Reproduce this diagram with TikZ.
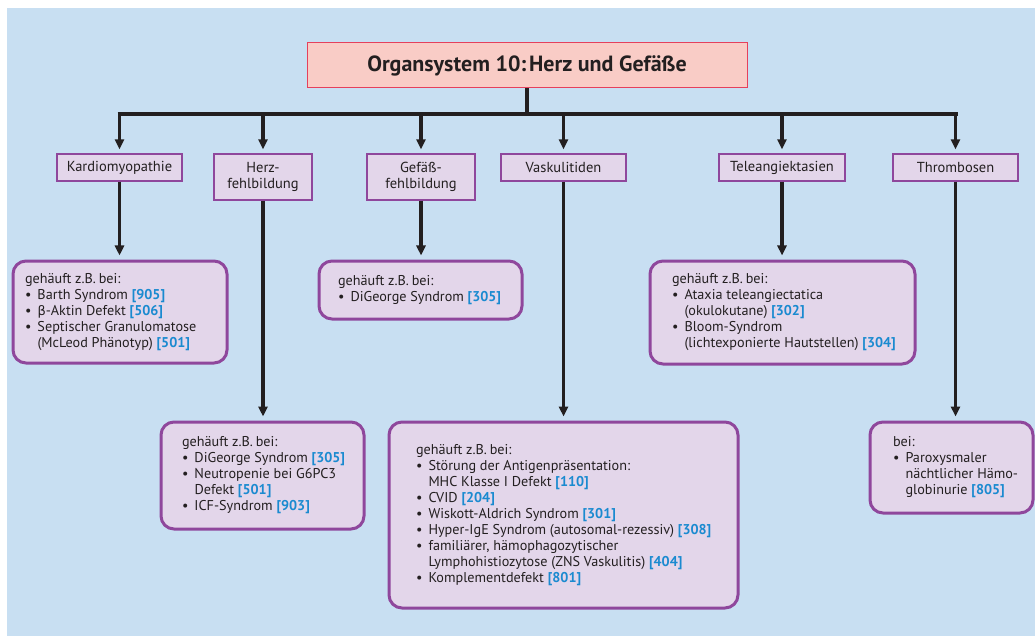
\documentclass[tikz,border=0pt]{standalone}
\usepackage{fontspec}
\setmainfont{PT Sans}
\newfontfamily\grk{DejaVu Sans}
\usetikzlibrary{arrows.meta}

\definecolor{bgblue}{HTML}{C8DFF2}
\definecolor{titlefill}{HTML}{F9CCC6}
\definecolor{titleline}{HTML}{E5405C}
\definecolor{boxfill}{HTML}{E3D6EA}
\definecolor{boxline}{HTML}{8F479C}
\definecolor{ink}{HTML}{231F20}
\definecolor{refblue}{HTML}{1A8AD0}

% reference number in bold blue
\newcommand{\rf}[1]{\textbf{\color{refblue}[#1]}}
% bullet item start and continuation indent
\newcommand{\bul}{\makebox[12.5pt][l]{\textbullet}}
\newcommand{\cnt}{\hspace*{12.5pt}}
\newcommand{\zb}{gehäuft z.B.\hspace{0.2em}bei:}
% unbreakable left-aligned list of lines
\newenvironment{lines}{\begin{tabular}{@{}l@{}}}{\end{tabular}}

\begin{document}
\begin{tikzpicture}[x=1pt, y=-1pt,
  titlebox/.style={draw=titleline, line width=1pt, fill=titlefill,
    minimum width=440pt, minimum height=45pt, inner sep=0pt,
    font=\fontsize{22}{26}\selectfont\bfseries, text=ink},
  catbox/.style={draw=boxline, line width=1.3pt, fill=boxfill,
    inner sep=0pt, align=center, text=ink,
    font=\fontsize{14.5}{15.5}\selectfont},
  resbox/.style={draw=boxline, line width=3pt, fill=boxfill,
    rounded corners=13pt, inner ysep=0pt, align=flush left, text=ink,
    font=\fontsize{14.2}{16}\selectfont},
  link/.style={draw=ink, line width=3.3pt,
    -{Triangle[width=9pt,length=10pt]}, shorten >=4pt},
  bar/.style={draw=ink, line width=4pt}
]
\useasboundingbox (0,0) rectangle (1035,636);
\fill[bgblue] (7,8) rectangle (1035,636);

% title
\node[titlebox] (title) at (527,65.5) {Organsystem 10:\hspace{0.12em}Herz und Gefäße};

% categories
\node[catbox, minimum width=125pt, minimum height=27pt] (kardio) at (119.5,167.5) {Kardiomyopathie};
\node[catbox, minimum width=98pt, minimum height=46pt] (herz) at (263,177) {Herz-\\fehlbildung};
\node[catbox, minimum width=108pt, minimum height=46pt] (gefaess) at (421,177) {Gefäß-\\fehlbildung};
\node[catbox, minimum width=125pt, minimum height=27pt] (vask) at (563.5,167.5) {Vaskulitiden};
\node[catbox, minimum width=126pt, minimum height=27pt] (tele) at (782,167.5) {Teleangiektasien};
\node[catbox, minimum width=125pt, minimum height=27pt] (thromb) at (955.5,167.5) {Thrombosen};

% distribution bar
\coordinate (barL) at (117.5,114);
\coordinate (barR) at (958,114);
\draw[bar] (barL) -- (barR);
\draw[draw=ink, line width=3.3pt] (title.south) -- (title.south |- barL);
\foreach \c in {kardio,herz,gefaess,vask,tele,thromb}
  \draw[link] (\c.north |- barL) -- (\c.north);

% result boxes
\node[resbox, minimum height=102pt, text width=190pt, inner xsep=12pt] (rkardio) at (120,312)
  {\begin{lines}
   \zb\\
   \bul Barth Syndrom \rf{905}\\
   \bul {\grk\fontsize{13}{16}\selectfont β}-Aktin Defekt \rf{506}\\
   \bul Septischer Granulomatose\\
   \cnt (McLeod Phänotyp) \rf{501}
   \end{lines}};

\node[resbox, minimum height=58pt, text width=165pt, inner xsep=19pt] (rgefaess) at (420.5,290)
  {\begin{lines}
   \zb\\
   \bul DiGeorge Syndrom \rf{305}
   \end{lines}};

\node[resbox, minimum height=103pt, text width=221pt, inner xsep=22pt] (rtele) at (782.5,312.5)
  {\begin{lines}
   \zb\\
   \bul Ataxia teleangiectatica\\
   \cnt (okulokutane) \rf{302}\\
   \bul Bloom-Syndrom\\
   \cnt (lichtexponierte Hautstellen) \rf{304}
   \end{lines}};

\node[resbox, minimum height=107pt, text width=161pt, inner xsep=21pt] (rherz) at (262.5,475.5)
  {\begin{lines}
   \zb\\
   \bul DiGeorge Syndrom \rf{305}\\
   \bul Neutropenie bei G6PC3\\
   \cnt Defekt \rf{501}\\
   \bul ICF-Syndrom \rf{903}
   \end{lines}};

\node[resbox, minimum height=186pt, text width=295pt, inner xsep=27pt] (rvask) at (563.5,515)
  {\begin{lines}
   \zb\\
   \bul Störung der Antigenpräsentation:\\
   \cnt MHC Klasse I Defekt \rf{110}\\
   \bul CVID \rf{204}\\
   \bul Wiskott-Aldrich Syndrom \rf{301}\\
   \bul Hyper-IgE Syndrom (autosomal-rezessiv) \rf{308}\\
   \bul familiärer, hämophagozytischer\\
   \cnt Lymphohistiozytose (ZNS Vaskulitis) \rf{404}\\
   \bul Komplementdefekt \rf{801}
   \end{lines}};

\node[resbox, minimum height=91pt, text width=117pt, inner xsep=23pt] (rthromb) at (951.5,467.5)
  {\begin{lines}
   bei:\\
   \bul Paroxysmaler\\
   \cnt nächtlicher Hämo-\\
   \cnt globinurie \rf{805}
   \end{lines}};

% category to result arrows
\draw[link] (kardio.south) -- (kardio.south |- rkardio.north);
\draw[link] (gefaess.south) -- (gefaess.south |- rgefaess.north);
\draw[link] (tele.south) -- (tele.south |- rtele.north);
\draw[link] (herz.south) -- (herz.south |- rherz.north);
\draw[link] (vask.south) -- (vask.south |- rvask.north);
\draw[link] (thromb.south) -- (thromb.south |- rthromb.north);
\end{tikzpicture}
\end{document}
